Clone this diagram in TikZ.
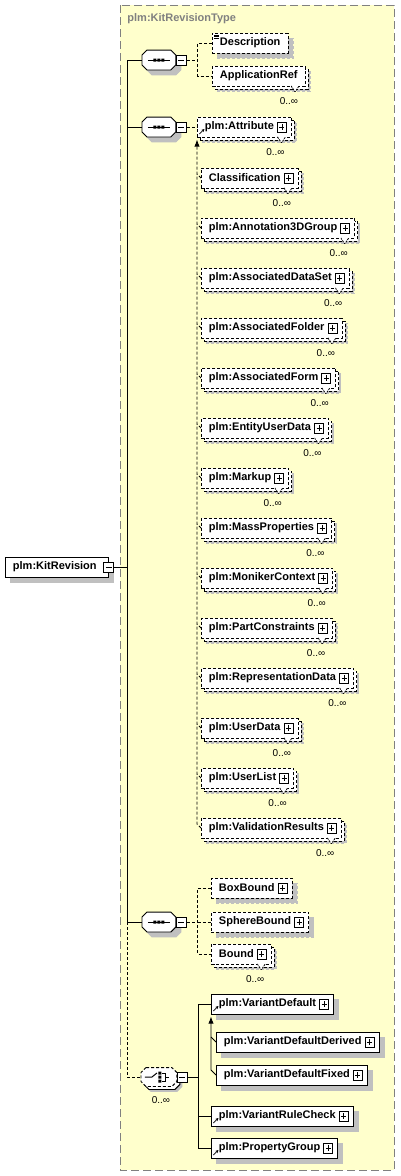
\documentclass[tikz,border=0pt]{standalone}
\usepackage{fontspec}
\setmainfont{Liberation Sans}
\usetikzlibrary{shadows,positioning,arrows.meta}
\definecolor{typefill}{HTML}{FFFFCC}
\definecolor{typeline}{HTML}{808080}
\definecolor{shade}{HTML}{C0C0C0}
% octagon round a named node
\newcommand\octpath[1]{([xshift=5pt]#1.north west) -- ([xshift=-5pt]#1.north east) -- ([yshift=-5pt]#1.north east) -- ([yshift=5pt]#1.south east) -- ([xshift=-5pt]#1.south east) -- ([xshift=5pt]#1.south west) -- ([yshift=5pt]#1.south west) -- ([yshift=-5pt]#1.north west) -- cycle}
\tikzset{
shad/.style = {drop shadow={shadow xshift=5pt, shadow yshift=-5pt, fill=shade, draw=shade, opacity=1}},
elem/.style = {draw, fill=white, rectangle, anchor=west, minimum height=20pt, inner xsep=7.5pt, inner ysep=0pt, font=\bfseries\fontsize{11}{13}\selectfont, shad},
opt/.style = {elem, dash pattern=on 3pt off 2pt},
mult/.style = {font=\fontsize{10}{12}\selectfont, inner sep=0pt},
notch/.style = {inner sep=0pt, minimum width=8pt, minimum height=6pt, anchor=north east, xshift=-6pt, yshift=1pt,
  path picture={\fill[white] (path picture bounding box.north west) -- (path picture bounding box.south) -- (path picture bounding box.north east) -- cycle;
  \draw[line width=0.8pt, dash pattern=on 2pt off 1pt] (path picture bounding box.north west) -- (path picture bounding box.south) -- (path picture bounding box.north east);}},
many/.style = {copy shadow={shadow xshift=3pt, shadow yshift=-3pt}, label={[notch]south east:}, label={[mult, anchor=north east, xshift=-7pt, yshift=-11pt]south east:0..∞}},
pbox/.style = {draw, solid, fill=white, rectangle, minimum width=9pt, minimum height=10pt, inner sep=0pt},
plusbox/.style = {pbox, path picture={\draw ([xshift=2pt]path picture bounding box.west) -- ([xshift=-2pt]path picture bounding box.east) ([yshift=-2pt]path picture bounding box.north) -- ([yshift=2pt]path picture bounding box.south);}},
minusbox/.style = {pbox, minimum width=10pt, path picture={\draw ([xshift=2pt]path picture bounding box.west) -- ([xshift=-2pt]path picture bounding box.east);}},
plus/.style = {execute at end node={\hspace{10pt}}, label={[plusbox, anchor=east, xshift=-5pt]east:}},
ref/.style = {path picture={\draw[solid, line width=0.7pt, -{Stealth[length=3pt, width=3pt]}] ([shift={(2pt,3pt)}]path picture bounding box.south west) -- ++(5,-5);}},
doc/.style = {path picture={\draw[solid, line width=0.6pt] ([shift={(2pt,-2pt)}]path picture bounding box.north west) -- ++(5,0) ++(-5,1.5) -- ++(5,0) ++(-5,1.5) -- ++(5,0);}},
seq/.style = {rectangle, minimum width=33pt, minimum height=19pt, inner sep=0pt, anchor=west,
  append after command={\pgfextra{\begin{pgfinterruptpath}
  \draw[fill=white, shad] \octpath{\tikzlastnode};
  \begin{scope}[shift={(\tikzlastnode.center)}]
  \draw (-11,0) -- (11,0);
  \fill[black] (-5.5,-1.5) rectangle (-2.5,1.5) (-1.5,-1.5) rectangle (1.5,1.5) (2.5,-1.5) rectangle (5.5,1.5);
  \end{scope}
  \end{pgfinterruptpath}}}},
choice/.style = {rectangle, minimum width=35pt, minimum height=18pt, inner sep=0pt, anchor=west,
  label={[mult, anchor=north, xshift=2pt, yshift=-10pt]south:0..∞},
  append after command={\pgfextra{\begin{pgfinterruptpath}
  \draw[fill=white, dash pattern=on 3pt off 2pt, shad, copy shadow={shadow xshift=3pt, shadow yshift=-3pt}] \octpath{\tikzlastnode};
  \begin{scope}[shift={(\tikzlastnode.center)}, line width=1pt]
  \draw (-14,0) -- (-7,0) -- (-2,-4);
  \fill[black] (-0.5,-5.5) rectangle (2.5,-2.5) (-0.5,-1.5) rectangle (2.5,1.5) (-0.5,2.5) rectangle (2.5,5.5);
  \draw (3.5,-4) -- (6.5,-4) -- (6.5,4) -- (3.5,4) (6.5,0) -- (10,0);
  \end{scope}
  \end{pgfinterruptpath}}}},
optconn/.style = {dash pattern=on 3pt off 2pt},
typebox/.style = {draw=typeline, fill=typefill, dash pattern=on 8pt off 4pt}
}
\begin{document}
\begin{tikzpicture}[x=1pt, y=-1pt, line width=0.9pt, >=Latex]
\useasboundingbox (0,0) rectangle (400,1176);
\draw[typebox] (120,5) rectangle (394,1170);
\node[anchor=west, inner sep=0pt, text=typeline, font=\bfseries\fontsize{11}{13}\selectfont] (tname) at (127,19) {plm:KitRevisionType};

% root element
\node[elem, execute at end node={\hspace{4pt}}] (kit) at (5,567) {plm:KitRevision};
\node[minusbox] (kitm) at (kit.east) {};
\coordinate (trunk) at (127,567);

% first sequence
\node[seq] (seq1) at (142,60) {};
\node[minusbox, right=0pt of seq1] (seq1m) {};
\node[opt, doc] (desc) at (212,43) {Description};
\node[opt, many] (appref) at (212,76) {ApplicationRef};

% second sequence, substitution group of plm:Attribute
\node[seq] (seq2) at (142,127) {};
\node[minusbox, right=0pt of seq2] (seq2m) {};
\node[opt, many, plus, ref] (attr) at (197,127) {plm:Attribute};
\node[opt, many, plus] (classif) at (201,178) {Classification};
\node[opt, many, plus, below=50pt of classif.west, anchor=west] (annot) {plm:Annotation3DGroup};
\node[opt, many, plus, below=50pt of annot.west, anchor=west] (dataset) {plm:AssociatedDataSet};
\node[opt, many, plus, below=50pt of dataset.west, anchor=west] (folder) {plm:AssociatedFolder};
\node[opt, many, plus, below=50pt of folder.west, anchor=west] (form) {plm:AssociatedForm};
\node[opt, many, plus, below=50pt of form.west, anchor=west] (entity) {plm:EntityUserData};
\node[opt, many, plus, below=50pt of entity.west, anchor=west] (markup) {plm:Markup};
\node[opt, many, plus, below=50pt of markup.west, anchor=west] (massprop) {plm:MassProperties};
\node[opt, many, plus, below=50pt of massprop.west, anchor=west] (moniker) {plm:MonikerContext};
\node[opt, many, plus, below=50pt of moniker.west, anchor=west] (partcons) {plm:PartConstraints};
\node[opt, many, plus, below=50pt of partcons.west, anchor=west] (repdata) {plm:RepresentationData};
\node[opt, many, plus, below=50pt of repdata.west, anchor=west] (udata) {plm:UserData};
\node[opt, many, plus, below=50pt of udata.west, anchor=west] (ulist) {plm:UserList};
\node[opt, many, plus, below=50pt of ulist.west, anchor=west] (valid) {plm:ValidationResults};

% third sequence
\node[seq] (seq3) at (142,922) {};
\node[minusbox, right=0pt of seq3] (seq3m) {};
\node[opt, plus] (boxb) at (211,888) {BoxBound};
\node[opt, plus] (sphereb) at (211,922) {SphereBound};
\node[opt, many, plus] (bound) at (211,954) {Bound};

% choice
\node[choice] (choice) at (141,1077) {};
\node[minusbox, right=0pt of choice] (choicem) {};
\node[elem, plus, ref] (vdef) at (211,1004) {plm:VariantDefault};
\node[elem, plus] (derived) at (216,1042) {plm:VariantDefaultDerived};
\node[elem, plus] (fixed) at (216,1075) {plm:VariantDefaultFixed};
\node[elem, plus, ref] (rulechk) at (211,1116) {plm:VariantRuleCheck};
\node[elem, plus, ref] (pgroup) at (211,1148) {plm:PropertyGroup};

% connectors
\draw (kitm.east) -- (trunk);
\draw (seq1.west) -- (seq1.west -| trunk) -- (seq3.west -| trunk) -- (seq3.west);
\draw (seq2.west) -- (seq2.west -| trunk);
\draw[optconn] (seq3.west -| trunk) |- (choice.west);

\draw[optconn] (seq1m.east) -- ++(11,0) coordinate (bus1);
\draw[optconn] (desc.west) -| (bus1) |- (appref.west);

\draw[optconn] (seq2m.east) -- (attr.west);
\draw[optconn, ->] (valid.west) -- ++(-4,-4) -- ([yshift=-2pt]attr.south west);
\draw[optconn] (classif.west) -- ++(-4,-4) (annot.west) -- ++(-4,-4) (dataset.west) -- ++(-4,-4)
  (folder.west) -- ++(-4,-4) (form.west) -- ++(-4,-4) (entity.west) -- ++(-4,-4)
  (markup.west) -- ++(-4,-4) (massprop.west) -- ++(-4,-4) (moniker.west) -- ++(-4,-4)
  (partcons.west) -- ++(-4,-4) (repdata.west) -- ++(-4,-4) (udata.west) -- ++(-4,-4)
  (ulist.west) -- ++(-4,-4);

\draw[optconn] (seq3m.east) -- ++(11,0) coordinate (bus3);
\draw[optconn] (boxb.west) -| (bus3) |- (bound.west);
\draw[optconn] (bus3) -- (sphereb.west);

\draw (choicem.east) -- ++(11,0) coordinate (bus4);
\draw (vdef.west) -| (bus4) |- (pgroup.west);
\draw (rulechk.west) -- (rulechk.west -| bus4);
\draw[->] (fixed.west) -- ++(-5,-5) -- ([yshift=-2pt]vdef.south west);
\draw (derived.west) -- ++(-5,-5);
\end{tikzpicture}
\end{document}
